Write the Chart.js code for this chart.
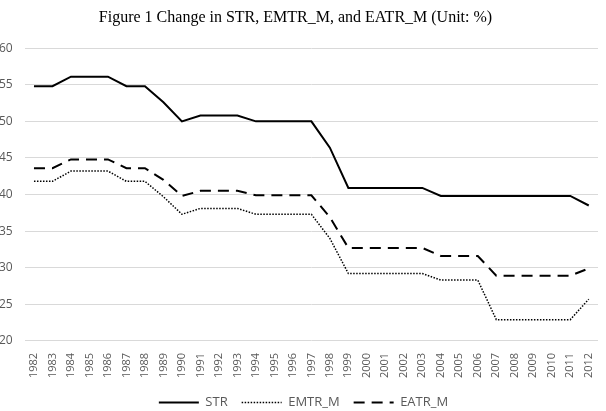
<!DOCTYPE html>
<html>
<head>
<meta charset="utf-8">
<script src="https://cdn.jsdelivr.net/npm/chart.js@4"></script>
<style>
  html, body { margin: 0; padding: 0; background: #fff; overflow: hidden; }
  #wrap { width: 619px; height: 411px; margin-left: -13px; }
</style>
</head>
<body>
<div id="wrap"><canvas id="chart" width="619" height="411"></canvas></div>
<script>
// Data
const years = [
  "1982", "1983", "1984", "1985", "1986", "1987", "1988", "1989", "1990", "1991",
  "1992", "1993", "1994", "1995", "1996", "1997", "1998", "1999", "2000", "2001",
  "2002", "2003", "2004", "2005", "2006", "2007", "2008", "2009", "2010", "2011", "2012",
];
const str = [
  54.8, 54.8, 56.1, 56.1, 56.1, 54.8, 54.8, 52.6, 50.0, 50.8,
  50.8, 50.8, 50.0, 50.0, 50.0, 50.0, 46.4, 40.9, 40.9, 40.9,
  40.9, 40.9, 39.8, 39.8, 39.8, 39.8, 39.8, 39.8, 39.8, 39.8, 38.5,
];
const emtr = [
  41.8, 41.8, 43.2, 43.2, 43.2, 41.8, 41.8, 39.7, 37.3, 38.1,
  38.1, 38.1, 37.3, 37.3, 37.3, 37.3, 34.0, 29.2, 29.2, 29.2,
  29.2, 29.2, 28.3, 28.3, 28.3, 22.9, 22.9, 22.9, 22.9, 22.9, 25.7,
];
const eatr = [
  43.6, 43.6, 44.8, 44.8, 44.8, 43.6, 43.6, 42.0, 39.8, 40.5,
  40.5, 40.5, 39.9, 39.9, 39.9, 39.9, 36.9, 32.7, 32.7, 32.7,
  32.7, 32.7, 31.6, 31.6, 31.6, 28.9, 28.9, 28.9, 28.9, 28.9, 29.9,
];
const yTicks = [20, 25, 30, 35, 40, 45, 50, 55, 60];

// nudge the legend a bit to the right, like the original
const legendShift = {
  id: "legendShift",
  afterLayout(chart) {
    chart.legend.left += 8;
    chart.legend.right += 8;
  },
};

const ctx = document.getElementById("chart").getContext("2d");

new Chart(ctx, {
  type: "line",
  data: {
    labels: years,
    datasets: [
      {
        label: "STR",
        data: str,
        borderColor: "#000",
        borderWidth: 2,
        pointRadius: 0,
        pointStyle: "line",
        tension: 0,
      },
      {
        label: "EMTR_M",
        data: emtr,
        borderColor: "#000",
        borderWidth: 1.5,
        borderDash: [1.5, 1.5],
        pointRadius: 0,
        pointStyle: "line",
        tension: 0,
      },
      {
        label: "EATR_M",
        data: eatr,
        borderColor: "#000",
        borderWidth: 2,
        borderDash: [11, 7],
        pointRadius: 0,
        pointStyle: "line",
        tension: 0,
      },
    ],
  },
  options: {
    responsive: false,
    animation: false,
    layout: { padding: { left: 0, right: 2, top: 4, bottom: -8 } },
    plugins: {
      title: {
        display: true,
        text: "Figure 1 Change in STR, EMTR_M, and EATR_M (Unit: %)",
        color: "#000",
        font: { family: "'Liberation Serif', 'Times New Roman', serif", size: 16, weight: "normal" },
        padding: { top: 4, bottom: 21 },
      },
      legend: {
        position: "bottom",
        labels: {
          usePointStyle: true,
          pointStyleWidth: 40,
          color: "#595959",
          font: { family: "'Open Sans', sans-serif", size: 13 },
          padding: 14,
          // legend samples use the dataset's own dash and width
          generateLabels: (chart) => {
            const items = Chart.defaults.plugins.legend.labels.generateLabels(chart);
            items.forEach((item) => {
              const ds = chart.data.datasets[item.datasetIndex];
              item.lineDash = ds.borderDash || [];
              item.lineWidth = ds.borderWidth;
              item.strokeStyle = ds.borderColor;
            });
            return items;
          },
        },
      },
      tooltip: { enabled: false },
    },
    scales: {
      x: {
        offset: true,
        grid: { display: false },
        border: { display: false },
        ticks: {
          color: "#595959",
          font: { family: "'Open Sans', sans-serif", size: 11 },
          minRotation: 90,
          maxRotation: 90,
          autoSkip: false,
          padding: 4,
        },
      },
      y: {
        min: 20,
        max: 60,
        afterBuildTicks: (axis) => {
          axis.ticks = yTicks.map((v) => ({ value: v }));
        },
        grid: { color: "#d9d9d9", lineWidth: 1, drawTicks: false },
        border: { display: false },
        ticks: {
          color: "#595959",
          font: { family: "'Open Sans', sans-serif", size: 12 },
          padding: 12,
        },
      },
    },
  },
  plugins: [legendShift],
});
</script>
</body>
</html>
